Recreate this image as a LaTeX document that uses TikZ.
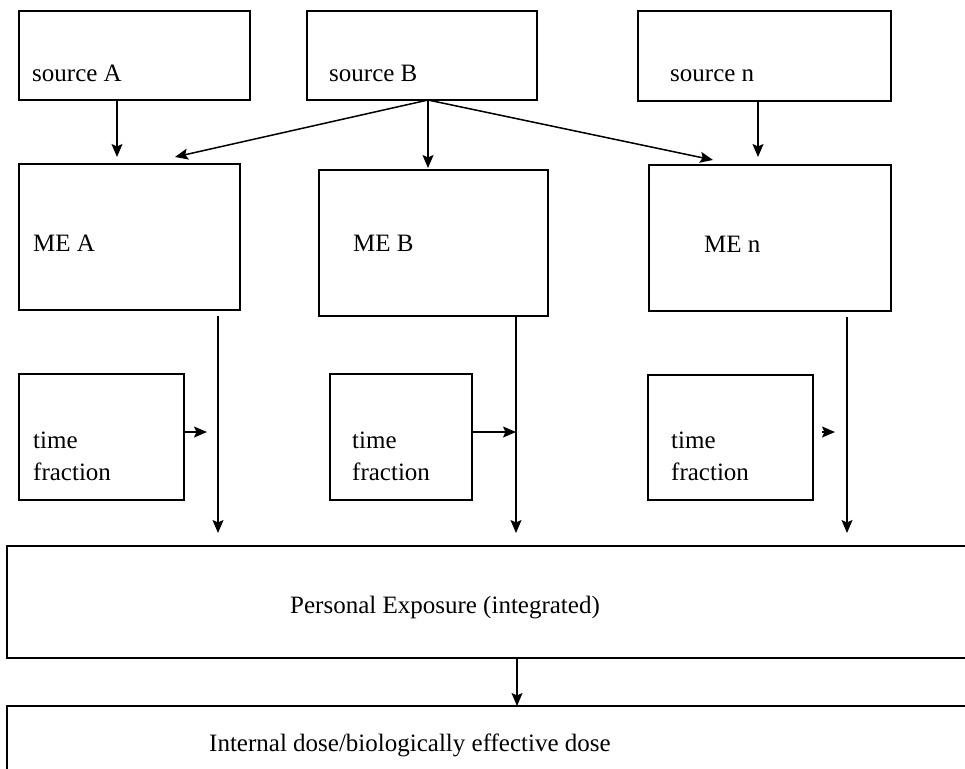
\documentclass[tikz,border=0pt]{standalone}
\usepackage{fontspec}
\setmainfont{Liberation Serif}
\usetikzlibrary{arrows.meta,calc}

\begin{document}
\begin{tikzpicture}[x=1pt,y=-1pt,
  box/.style={draw, line width=1.6pt, inner sep=0pt, outer sep=0pt, anchor=north west},
  lbl/.style={anchor=base west, inner sep=0pt, font=\fontsize{25}{30}\selectfont},
  arr/.style={line width=1.5pt, -{Stealth[length=13pt,width=11pt,inset=2.5pt]}}]

\useasboundingbox (0,0) rectangle (965,768);
\fill[white] (0,0) rectangle (965,768);
\clip (0,0) rectangle (965,768);

% sources
\node[box, minimum width=231pt, minimum height=89pt] (srcA) at (19,11) {};
\node[box, minimum width=230pt, minimum height=89pt] (srcB) at (307,11) {};
\node[box, minimum width=253pt, minimum height=90pt] (srcN) at (638,11) {};
\node[lbl] (tsrcA) at (32,81) {source A};
\node[lbl] (tsrcB) at (329,81) {source B};
\node[lbl] (tsrcN) at (670,81) {source n};

% micro-environments
\node[box, minimum width=221pt, minimum height=146pt] (meA) at (19,164) {};
\node[box, minimum width=229pt, minimum height=146pt] (meB) at (319,170) {};
\node[box, minimum width=242pt, minimum height=146pt] (meN) at (649,165) {};
\node[lbl] (tmeA) at (33,251) {ME A};
\node[lbl] (tmeB) at (353,251) {ME B};
\node[lbl] (tmeN) at (704,252) {ME n};

% time fractions
\node[box, minimum width=165pt, minimum height=126pt] (tfA) at (19,374) {};
\node[box, minimum width=142pt, minimum height=126pt] (tfB) at (330,374) {};
\node[box, minimum width=165pt, minimum height=125pt] (tfN) at (648,375) {};
\node[lbl] (ttfA) at (33,448) {\vtop{\baselineskip=32pt\hbox{time}\hbox{fraction}}};
\node[lbl] (ttfB) at (352,448) {\vtop{\baselineskip=32pt\hbox{time}\hbox{fraction}}};
\node[lbl] (ttfN) at (671,448) {\vtop{\baselineskip=32pt\hbox{time}\hbox{fraction}}};

% exposure and dose
\node[box, minimum width=980pt, minimum height=112pt] (pers) at (7,546) {};
\node[box, minimum width=980pt, minimum height=80pt] (intd) at (7,706) {};
\node[lbl] (tpers) at (290,613) {Personal Exposure (integrated)};
\node[lbl] (tintd) at (209,751) {Internal dose/biologically effective dose};

% source -> micro-environment
\coordinate (bOut) at ($(srcB.south west)+(121,0)$);
\draw[arr] ($(srcA.south west)+(98,0)$) -- ($(meA.north west)+(98,-7)$);
\draw[arr] (bOut) -- ($(meA.north west)+(156,-7)$);
\draw[arr] (bOut) -- ($(meB.north west)+(109,-2)$);
\draw[arr] (bOut) -- ($(meN.north west)+(64,-5)$);
\draw[arr] ($(srcN.south west)+(120,0)$) -- ($(meN.north west)+(109,-8)$);

% micro-environment -> exposure
\draw[arr] ($(meA.south west)+(199,6)$) -- ($(pers.north west)+(211,-13)$);
\draw[arr] ($(meB.south west)+(197,1)$) -- ($(pers.north west)+(509,-13)$);
\draw[arr] ($(meN.south west)+(198,6)$) -- ($(pers.north west)+(840,-13)$);

% time fraction weights
\draw[arr] ($(tfA.north east)+(0,58)$) -- ($(tfA.north east)+(23,58)$);
\draw[arr] ($(tfB.north east)+(0,58)$) -- ($(tfB.north east)+(44,58)$);
\draw[arr] ($(tfN.north east)+(9,57)$) -- ($(tfN.north east)+(22,57)$);

% exposure -> dose
\draw[arr] ($(pers.south west)+(510,0)$) -- ($(intd.north west)+(510,0)$);
\end{tikzpicture}
\end{document}
